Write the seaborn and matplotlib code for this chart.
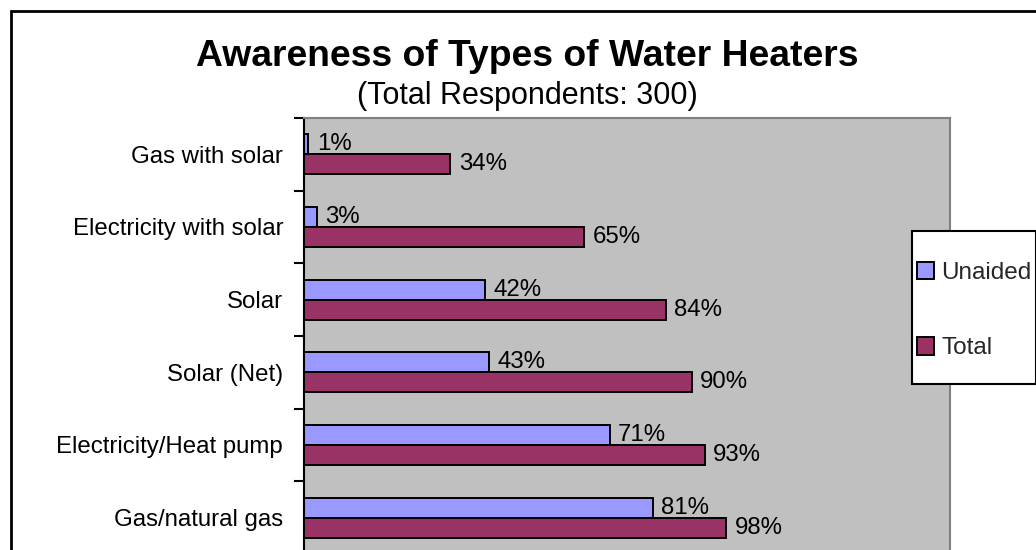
import matplotlib
matplotlib.use("Agg")
import matplotlib.pyplot as plt
from matplotlib.patches import Rectangle, Patch
import seaborn as sns
import pandas as pd

# Survey results: awareness of water heater types (percent of 300 respondents)
categories = [
    "Gas with solar",
    "Electricity with solar",
    "Solar",
    "Solar (Net)",
    "Electricity/Heat pump",
    "Gas/natural gas",
]
unaided = [1, 3, 42, 43, 71, 81]
total = [34, 65, 84, 90, 93, 98]
series_names = ["Unaided", "Total"]
series_colors = ["#9999FF", "#993366"]

df = pd.DataFrame({
    "category": categories * 2,
    "value": unaided + total,
    "series": [series_names[0]] * len(categories) + [series_names[1]] * len(categories),
})

sns.set_theme(style="white")
plt.rcParams["font.family"] = ["Liberation Sans", "DejaVu Sans"]

W, H = 1036, 550
fig = plt.figure(figsize=(W / 100, H / 100), dpi=100)
fig.patch.set_facecolor("white")

# Plot area in pixel terms (left, top, right, bottom) -> figure fraction
L, T, R, B = 304, 118, 950, 554
ax = fig.add_axes([L / W, 1 - B / H, (R - L) / W, (B - T) / H])
ax.set_facecolor("#C0C0C0")

sns.barplot(
    data=df, y="category", x="value", hue="series",
    order=categories, hue_order=series_names,
    palette=series_colors, orient="h", width=0.55,
    edgecolor="black", linewidth=1.4, saturation=1,
    legend=False, ax=ax,
)

ax.set_xlim(0, 150)
ax.set_ylim(len(categories) - 0.5, -0.5)
ax.set_xlabel("")
ax.set_ylabel("")
ax.set_xticks([])

# Category labels at centres, tick marks at boundaries
ax.set_yticks(range(len(categories)))
ax.set_yticklabels(categories, fontsize=17.3, color="black")
ax.set_yticks([i - 0.5 for i in range(len(categories) + 1)], minor=True)
ax.tick_params(axis="y", which="major", length=0, pad=15)
ax.tick_params(axis="y", which="minor", length=7, width=1.5, color="black", left=True)

for side in ["top", "right", "bottom"]:
    ax.spines[side].set_color("#808080")
    ax.spines[side].set_linewidth(1.5)
ax.spines["left"].set_color("black")
ax.spines["left"].set_linewidth(1.5)

# Value labels next to every bar
for container in ax.containers:
    ax.bar_label(container, labels=[f"{v:.0f}%" for v in container.datavalues],
                 padding=6, fontsize=17.3, color="black")

# Chart titles
fig.text(527 / W, 1 - 66 / H, "Awareness of Types of Water Heaters",
         ha="center", va="baseline", fontsize=26.8, fontweight="bold", color="black")
fig.text(527 / W, 1 - 104 / H, "(Total Respondents: 300)",
         ha="center", va="baseline", fontsize=22, color="black")

# Legend with its own framed box
lx0, ly0, lx1, ly1 = 911.5, 231, 1035.5, 384
fig.patches.append(Rectangle((lx0 / W, 1 - ly1 / H), (lx1 - lx0) / W, (ly1 - ly0) / H,
                             transform=fig.transFigure, facecolor="white",
                             edgecolor="black", linewidth=1.5, zorder=3))
handles = [Patch(facecolor=c, edgecolor="black", linewidth=1.4) for c in series_colors]
leg = fig.legend(handles, series_names, loc="upper left",
                 bbox_to_anchor=(917 / W, 1 - 262 / H), bbox_transform=fig.transFigure,
                 frameon=False, fontsize=17.5, handlelength=0.7, handleheight=0.7,
                 handletextpad=0.3, labelspacing=2.2, borderpad=0, borderaxespad=0)
leg.set_zorder(4)

# Outer chart frame
fig.patches.append(Rectangle((10.5 / W, -0.2), 1.5, 1.2 - 10.5 / H,
                             transform=fig.transFigure, fill=False,
                             edgecolor="black", linewidth=2, zorder=5))

fig.savefig("out.png", dpi=100)
